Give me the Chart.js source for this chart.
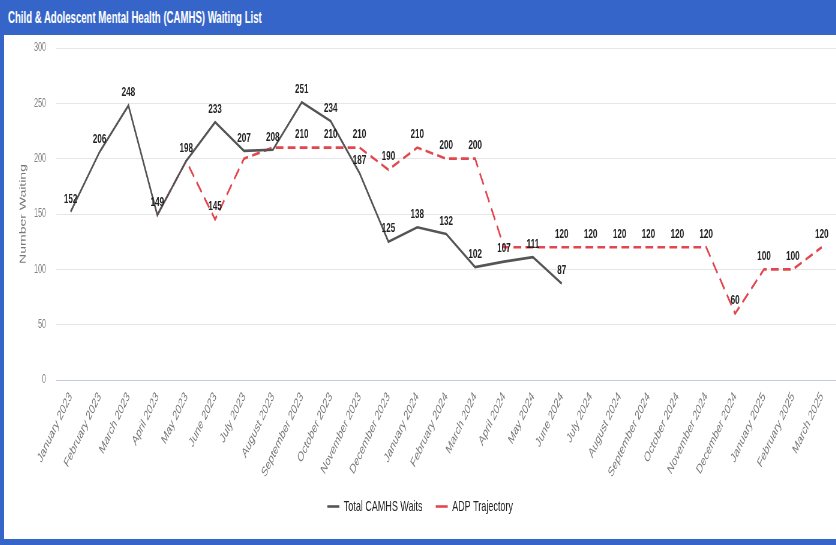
<!DOCTYPE html>
<html>
<head>
<meta charset="utf-8">
<script src="https://cdn.jsdelivr.net/npm/chart.js@4/dist/chart.umd.min.js"></script>
<style>
  html, body { margin: 0; padding: 0; background: #fff; overflow: hidden; }
  #frame { position: relative; width: 836px; height: 545px; background: #3565c9; overflow: hidden; }
  #title {
    position: absolute; left: 8px; top: 0; height: 35px;
    font: bold 16px "Liberation Sans", Arial, sans-serif; line-height: 36px;
    color: #fff; white-space: nowrap;
    transform: scaleX(0.6); transform-origin: 0 0;
  }
  #panel { position: absolute; left: 4px; top: 35px; width: 832px; height: 504px; background: #fff; overflow: hidden; }
  #squeeze { position: absolute; left: 0; top: 0; width: 1387px; height: 504px; transform: scaleX(0.6); transform-origin: 0 0; }
</style>
</head>
<body>
<div id="frame">
  <div id="title">Child &amp; Adolescent Mental Health (CAMHS) Waiting List</div>
  <div id="panel">
    <div id="squeeze"><canvas id="chart" width="1387" height="504"></canvas></div>
  </div>
</div>
<script>
// Monthly categories
const months = [
  'January 2023', 'February 2023', 'March 2023', 'April 2023', 'May 2023', 'June 2023',
  'July 2023', 'August 2023', 'September 2023', 'October 2023', 'November 2023', 'December 2023',
  'January 2024', 'February 2024', 'March 2024', 'April 2024', 'May 2024', 'June 2024',
  'July 2024', 'August 2024', 'September 2024', 'October 2024', 'November 2024', 'December 2024',
  'January 2025', 'February 2025', 'March 2025'
];

// Actual number of children and young people waiting
const totalWaits = [
  152, 206, 248, 149, 198, 233, 207, 208, 251, 234, 187, 125,
  138, 132, 102, 107, 111, 87, null, null, null, null, null, null,
  null, null, null
];

// ADP trajectory targets
const adpTrajectory = [
  null, null, null, 149, 198, 145, 200, 210, 210, 210, 210, 190,
  210, 200, 200, 120, 120, 120, 120, 120, 120, 120, 120, 60,
  100, 100, 120
];

// Trajectory points that carry a value label
const trajectoryLabelled = [5, 8, 9, 10, 11, 12, 13, 14, 17, 18, 19, 20, 21, 22, 23, 24, 25, 26];

// Value axis range
const yMin = 0;
const yMax = 300;
const yStep = 50;

const FONT = '"Liberation Sans", Arial, sans-serif';

// Writes each point's value just above it
const valueLabels = {
  id: 'valueLabels',
  afterDatasetsDraw(chart) {
    const ctx = chart.ctx;
    ctx.save();
    ctx.font = 'bold 13.5px ' + FONT;
    ctx.fillStyle = '#222';
    ctx.textAlign = 'center';
    ctx.textBaseline = 'middle';
    chart.data.datasets.forEach((ds, di) => {
      const meta = chart.getDatasetMeta(di);
      meta.data.forEach((pt, i) => {
        const v = ds.data[i];
        if (v == null) return;
        if (di === 1 && !trajectoryLabelled.includes(i)) return;
        ctx.fillText(String(v), pt.x, pt.y - 13);
      });
    });
    ctx.restore();
  }
};

new Chart(document.getElementById('chart'), {
  type: 'line',
  data: {
    labels: months,
    datasets: [
      {
        label: 'Total CAMHS Waits',
        data: totalWaits,
        borderColor: '#555555',
        backgroundColor: '#555555',
        borderWidth: 2.6,
        pointRadius: 0,
        pointHoverRadius: 0,
        tension: 0,
        spanGaps: false
      },
      {
        label: 'ADP Trajectory',
        data: adpTrajectory,
        borderColor: '#e2474f',
        backgroundColor: '#e2474f',
        borderWidth: 2.6,
        borderDash: [13, 7],
        pointRadius: 0,
        pointHoverRadius: 0,
        tension: 0
      }
    ]
  },
  options: {
    responsive: false,
    animation: false,
    devicePixelRatio: 1,
    layout: { padding: { top: 13, right: 0, bottom: 15, left: 0 } },
    plugins: {
      tooltip: { enabled: false },
      legend: {
        position: 'bottom',
        labels: {
          usePointStyle: true,
          pointStyle: 'line',
          pointStyleWidth: 20,
          boxWidth: 20,
          padding: 22,
          color: '#222',
          font: { family: FONT, size: 15 }
        }
      }
    },
    scales: {
      x: {
        offset: true,
        grid: { display: false, drawTicks: false },
        border: { display: false },
        ticks: {
          autoSkip: false,
          minRotation: 52,
          maxRotation: 52,
          padding: 9,
          color: '#7a7a7a',
          font: { family: FONT, size: 14 }
        },
        afterFit(scale) { scale.height = 97; }
      },
      y: {
        min: yMin,
        max: yMax,
        grid: {
          drawTicks: true,
          tickLength: 17,
          tickColor: 'rgba(0,0,0,0)',
          lineWidth: 1,
          color: (c) => (c.tick && c.tick.value === 0 ? '#c3cadb' : '#e6e6e6')
        },
        border: { display: false },
        ticks: {
          stepSize: yStep,
          padding: 0,
          color: '#808080',
          font: { family: FONT, size: 12 }
        },
        title: {
          display: true,
          text: 'Number Waiting',
          color: '#777',
          padding: { top: 24, bottom: 0 },
          font: { family: FONT, size: 14 }
        },
        afterFit(scale) { scale.width = 87; }
      }
    }
  },
  plugins: [valueLabels]
});
</script>
</body>
</html>
